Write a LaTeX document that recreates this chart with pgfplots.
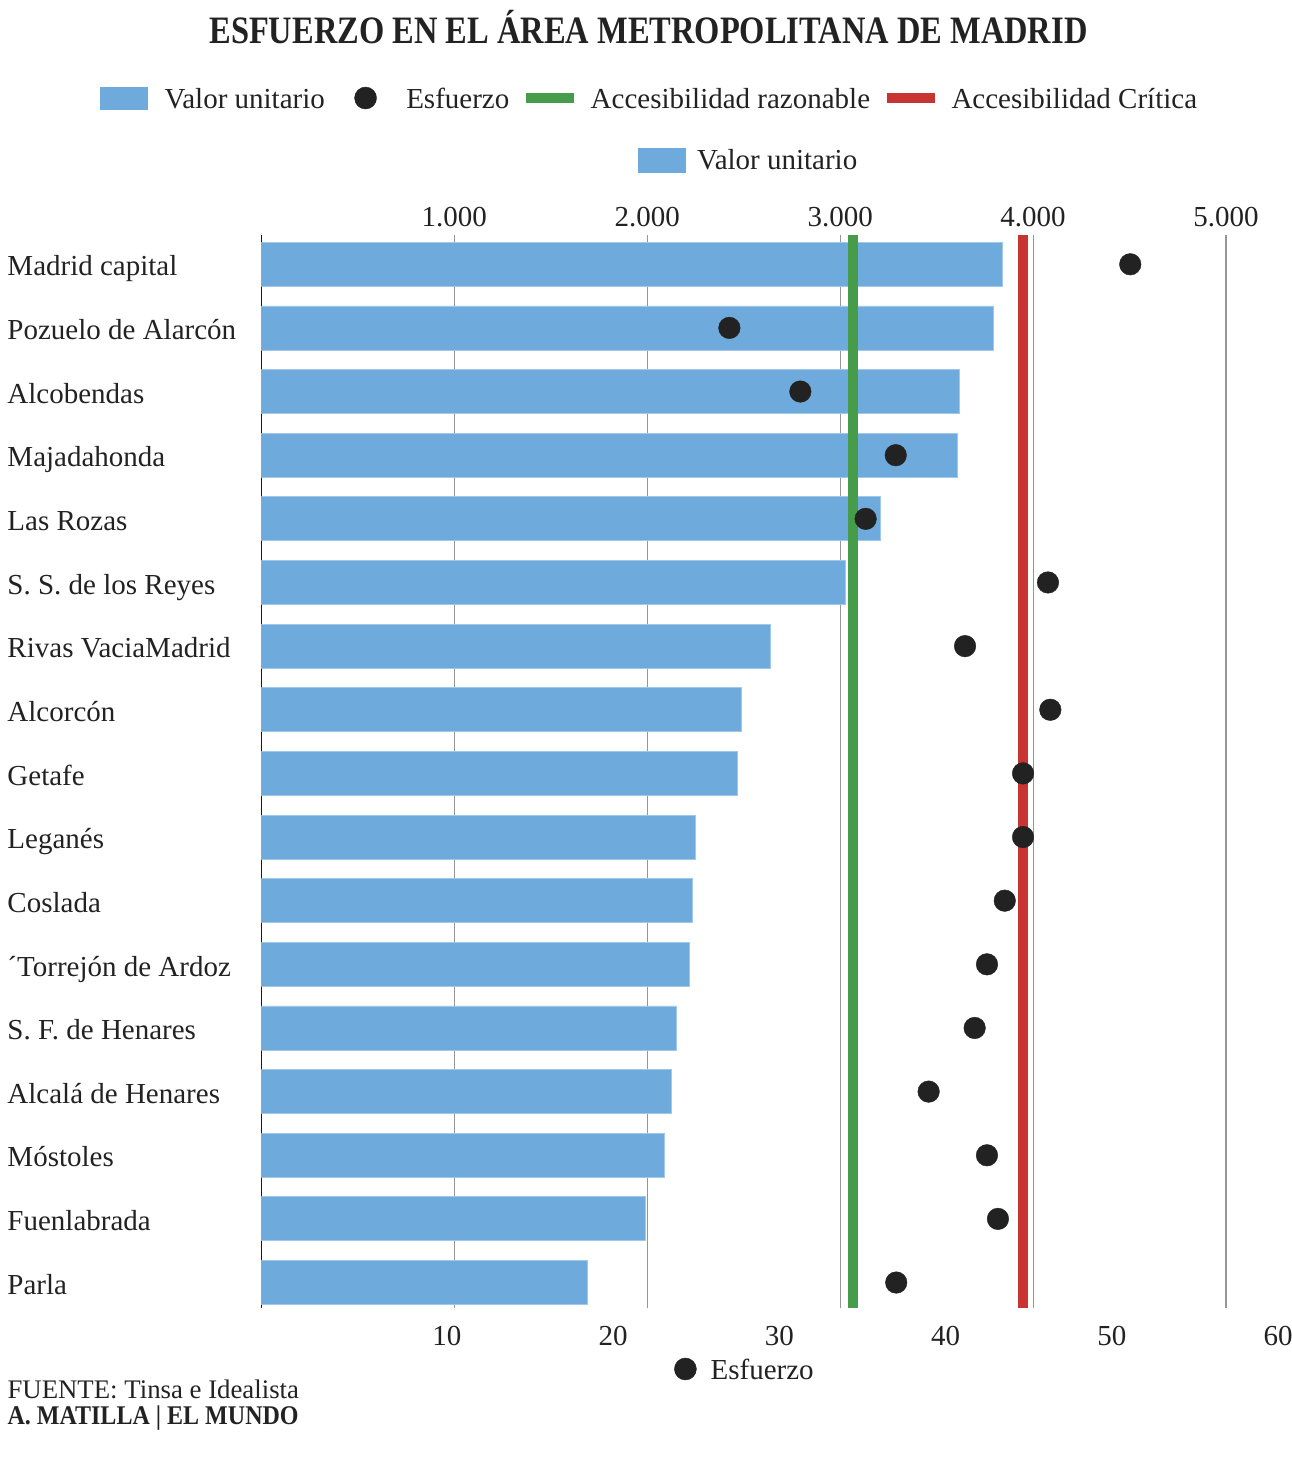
\documentclass[border=0pt]{standalone}
\usepackage{pgfplots}
\usepackage{pgfplotstable}
\pgfplotsset{compat=1.18}
\usepackage{fontspec}
\setmainfont{Liberation Serif}
\definecolor{barblue}{RGB}{111,170,220}
\definecolor{baredge}{RGB}{160,200,235}
\definecolor{okgreen}{RGB}{70,156,74}
\definecolor{critred}{RGB}{199,52,50}
\definecolor{dotcol}{RGB}{34,34,34}
\definecolor{txt}{RGB}{34,34,34}
\definecolor{gridgray}{RGB}{150,150,150}

\pgfplotstableread{
idx valor esfuerzo
16 3843 51.11
15 3792 26.99
14 3620 31.26
13 3609 37.00
12 3210 35.19
11 3029 46.16
10 2640 41.17
9  2488 46.30
8  2467 44.66
7  2248 44.66
6  2236 43.56
5  2217 42.49
4  2149 41.75
3  2125 38.98
2  2089 42.49
1  1990 43.15
0  1688 37.03
}\datatable

\newcommand{\lblfont}{\fontsize{29}{34}\selectfont}
\newcommand{\tkfont}{\fontsize{29}{34}\selectfont}

\begin{document}
\begin{tikzpicture}
\path[use as bounding box] (0pt,0pt) rectangle (1292pt,-1472pt);

% ---------- axis A: bars (Valor unitario), top ticks ----------
\begin{axis}[
  scale only axis, width=1028pt, height=1073.3pt,
  at={(261.3pt,-1308.3pt)}, anchor=south west,
  xmin=0, xmax=5328.1, ymin=-0.405, ymax=16.46,
  axis line style={draw=none}, major tick length=0pt, tick style={draw=none},
  xtick={1000,2000,3000,4000,5000},
  xticklabel pos=upper,
  xmajorgrids, grid style={gridgray, line width=1.2pt},
  extra x ticks={0}, extra x tick labels={},
  extra x tick style={grid style={black!90, line width=1.4pt}},
  ytick={0,...,16},
  yticklabels={Parla, Fuenlabrada, Móstoles, Alcalá de Henares, S. F. de Henares, ´Torrejón de Ardoz, Coslada, Leganés, Getafe, Alcorcón, Rivas VaciaMadrid, S. S. de los Reyes, Las Rozas, Majadahonda, Alcobendas, Pozuelo de Alarcón, Madrid capital},
  yticklabel style={anchor=base west, inner sep=0pt, xshift=-254pt, yshift=-11.7pt, font=\lblfont, text=txt},
  xticklabel style={anchor=base, inner sep=0pt, yshift=8.3pt, font=\tkfont, text=txt},
  /pgf/number format/assume math mode=true,
  /pgf/number format/1000 sep={.},
  xbar, bar width=44pt,
  legend style={at={(axis description cs:0.36644,1.06988)}, anchor=west,
    draw=none, fill=none, inner sep=0pt, font=\tkfont, text=txt,
    nodes={inner sep=0pt, text height=20pt, text depth=0pt},
    /tikz/every odd column/.append style={column sep=11pt}},
  legend cell align=left,
]
\addplot[fill=barblue, draw=baredge, line width=0.8pt,
  legend image code/.code={\fill[barblue] (0pt,-12pt) rectangle (47pt,12pt);}]
  table[x=valor, y=idx]{\datatable};
\addlegendentry{Valor unitario}
\end{axis}

% ---------- axis B: Esfuerzo dots and thresholds, bottom ticks ----------
\begin{axis}[
  scale only axis, width=1028pt, height=1073.3pt,
  at={(261.3pt,-1308.3pt)}, anchor=south west,
  xmin=-1.173, xmax=60.68, ymin=-0.405, ymax=16.46,
  axis line style={draw=none}, major tick length=0pt, tick style={draw=none},
  xtick={10,20,30,40,50,60}, ytick=\empty,
  xticklabel pos=lower,
  xticklabel style={anchor=base, inner sep=0pt, yshift=-36.7pt, font=\tkfont, text=txt},
  /pgf/number format/assume math mode=true,
  legend style={at={(axis description cs:0.40146,-0.05655)}, anchor=west,
    draw=none, fill=none, inner sep=0pt, font=\tkfont, text=txt,
    nodes={inner sep=0pt, text height=20pt, text depth=0pt},
    /tikz/every odd column/.append style={column sep=14pt}},
  legend cell align=left,
]
\addplot[okgreen, line width=9.5pt, forget plot] coordinates {(34.43,-0.405) (34.43,16.46)};
\addplot[critred, line width=10pt, forget plot] coordinates {(44.67,-0.405) (44.67,16.46)};
\addplot[only marks, mark=*, mark size=10.8pt, color=dotcol,
  legend image code/.code={\fill[dotcol] (11pt,0pt) circle (11pt);}]
  table[x=esfuerzo, y=idx]{\datatable};
\addlegendentry{Esfuerzo}
\end{axis}

% ---------- axis C: top legend only ----------
\begin{axis}[
  scale only axis, width=1028pt, height=1073.3pt,
  at={(261.3pt,-1308.3pt)}, anchor=south west,
  hide axis, xmin=0, xmax=1, ymin=0, ymax=1,
  legend columns=4,
  legend style={at={(axis description cs:-0.15691,1.12763)}, anchor=west,
    draw=none, fill=none, inner sep=0pt, font=\tkfont, text=txt,
    nodes={inner sep=0pt, text height=20pt, text depth=0pt},
    /tikz/every odd column/.append style={column sep=17pt},
    /tikz/every even column/.append style={column sep=17pt}},
  legend cell align=left,
]
\addlegendimage{legend image code/.code={\fill[barblue] (0pt,-11pt) rectangle (47pt,11pt);}}
\addlegendentry{Valor unitario}
\addlegendimage{legend image code/.code={\fill[white, opacity=0] (0pt,-1pt) rectangle (47pt,1pt); \fill[dotcol] (23.5pt,0pt) circle (11pt);}}
\addlegendentry{Esfuerzo}
\addlegendimage{legend image code/.code={\fill[okgreen] (0pt,-4.5pt) rectangle (47pt,4.5pt);}}
\addlegendentry{Accesibilidad razonable}
\addlegendimage{legend image code/.code={\fill[critred] (0pt,-4.5pt) rectangle (47pt,4.5pt);}}
\addlegendentry{Accesibilidad Crítica}
\end{axis}

% ---------- title and footer ----------
\node[anchor=base, inner sep=0pt, text=txt] at (648.5pt,-44pt)
  {\scalebox{0.837}[1]{\fontsize{38.8}{44}\selectfont\bfseries ESFUERZO EN EL ÁREA METROPOLITANA DE MADRID}};
\node[anchor=base west, inner sep=0pt, text=txt] at (7.3pt,-1398pt)
  {\fontsize{26.8}{30}\selectfont FUENTE: Tinsa e Idealista};
\node[anchor=base west, inner sep=0pt, text=txt] at (7.3pt,-1424pt)
  {\scalebox{0.89}[1]{\fontsize{27}{30}\selectfont\bfseries A. MATILLA | EL MUNDO}};
\end{tikzpicture}
\end{document}
